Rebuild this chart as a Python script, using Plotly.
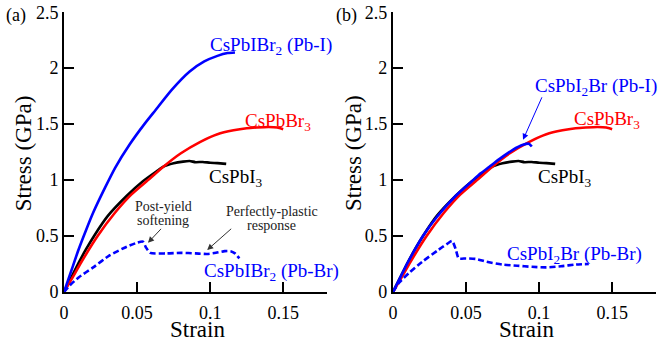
import plotly.graph_objects as go

# ---------------- data ----------------
# CsPbI3 (black), same in both panels
x_cspbi3 = [0, 0.005, 0.01, 0.015, 0.021, 0.03, 0.043, 0.054, 0.0635, 0.068, 0.075, 0.0815,
            0.086, 0.09, 0.095, 0.1, 0.105, 0.111]
y_cspbi3 = [0, 0.13, 0.26, 0.38, 0.51, 0.68, 0.86, 0.99, 1.08, 1.12, 1.15, 1.165,
            1.17, 1.16, 1.162, 1.155, 1.152, 1.145]

# CsPbBr3 (red), same in both panels
x_cspbbr3 = [0, 0.005, 0.012, 0.023, 0.035, 0.046, 0.0575, 0.068, 0.08, 0.093, 0.105, 0.116,
             0.125, 0.132, 0.14, 0.146, 0.15]
y_cspbbr3 = [0, 0.11, 0.27, 0.5, 0.71, 0.87, 1.0, 1.12, 1.24, 1.34, 1.41, 1.445,
             1.463, 1.47, 1.475, 1.47, 1.455]

# (a) CsPbIBr2 (Pb-I), blue solid
x_ibr2_pbi = [0, 0.005, 0.01, 0.015, 0.02, 0.028, 0.035, 0.045, 0.055, 0.0623, 0.074, 0.086,
              0.096, 0.105, 0.112, 0.117]
y_ibr2_pbi = [0, 0.19, 0.38, 0.55, 0.71, 0.93, 1.11, 1.32, 1.5, 1.62, 1.81, 1.97,
              2.06, 2.11, 2.135, 2.14]

# (a) CsPbIBr2 (Pb-Br), blue dashed
x_ibr2_pbbr = [0, 0.004, 0.01, 0.02, 0.0315, 0.043, 0.05, 0.054, 0.056, 0.059, 0.07, 0.08,
               0.09, 0.098, 0.104, 0.11, 0.114, 0.117, 0.12]
y_ibr2_pbbr = [0, 0.06, 0.13, 0.22, 0.33, 0.405, 0.44, 0.45, 0.40, 0.35, 0.345, 0.35,
               0.345, 0.34, 0.35, 0.365, 0.365, 0.345, 0.30]

# (b) CsPbI2Br (Pb-I), blue solid
x_i2br_pbi = [0, 0.005, 0.01, 0.0205, 0.03, 0.043, 0.054, 0.06, 0.066, 0.073, 0.082,
              0.089, 0.093, 0.095]
y_i2br_pbi = [0, 0.13, 0.26, 0.5, 0.67, 0.86, 0.99, 1.06, 1.12, 1.19, 1.27,
              1.315, 1.325, 1.30]

# (b) CsPbI2Br (Pb-Br), blue dashed
x_i2br_pbbr = [0, 0.004, 0.011, 0.02, 0.031, 0.037, 0.0405, 0.043, 0.045, 0.05, 0.057,
               0.064, 0.075, 0.085, 0.095, 0.105, 0.115, 0.125, 0.134]
y_i2br_pbbr = [0, 0.08, 0.17, 0.27, 0.375, 0.43, 0.455, 0.38, 0.30, 0.30, 0.295,
               0.27, 0.245, 0.235, 0.225, 0.22, 0.23, 0.245, 0.25]

x_ticks = [0, 0.05, 0.1, 0.15]
x_tick_text = ["0", "0.05", "0.1", "0.15"]
y_ticks = [0, 0.5, 1, 1.5, 2, 2.5]
y_tick_text = ["0", "0.5", "1", "1.5", "2", "2.5"]

BLUE = "#0000FF"
RED = "#FF0000"
BLACK = "#000000"
FONT = "Liberation Serif"

fig = go.Figure()

def line(x, y, color, xa, ya, dash=None):
    fig.add_trace(go.Scatter(x=x, y=y, mode="lines", xaxis=xa, yaxis=ya,
                             line=dict(color=color, width=2.6, dash=dash, shape="spline", smoothing=0.6),
                             showlegend=False, hoverinfo="skip"))

# panel (a)
line(x_cspbi3, y_cspbi3, BLACK, "x", "y")
line(x_cspbbr3, y_cspbbr3, RED, "x", "y")
line(x_ibr2_pbi, y_ibr2_pbi, BLUE, "x", "y")
line(x_ibr2_pbbr, y_ibr2_pbbr, BLUE, "x", "y", dash="6px,3px")
# panel (b)
line(x_cspbi3, y_cspbi3, BLACK, "x2", "y2")
line(x_cspbbr3, y_cspbbr3, RED, "x2", "y2")
line(x_i2br_pbi, y_i2br_pbi, BLUE, "x2", "y2")
line(x_i2br_pbbr, y_i2br_pbbr, BLUE, "x2", "y2", dash="6px,3px")

axis_common = dict(
    showline=True, linecolor="black", linewidth=2,
    ticks="inside", ticklen=10, tickwidth=1.5, tickcolor="black",
    showgrid=False, zeroline=False, ticklabeloverflow="allow",
    tickfont=dict(family=FONT, size=18, color="black"),
)

fig.update_layout(
    width=658, height=343,
    margin=dict(l=64, r=2, t=12, b=51),
    paper_bgcolor="white", plot_bgcolor="white",
    xaxis=dict(domain=[0, 0.4443], range=[0, 0.18], tickvals=x_ticks, ticktext=x_tick_text,
               anchor="y", ticklabelstandoff=3, **axis_common),
    yaxis=dict(domain=[0, 1], range=[0, 2.502], tickvals=y_ticks, ticktext=y_tick_text,
               anchor="x", **axis_common),
    xaxis2=dict(domain=[0.5557, 1], range=[0, 0.18], tickvals=x_ticks, ticktext=x_tick_text,
                anchor="y2", ticklabelstandoff=3, **axis_common),
    yaxis2=dict(domain=[0, 1], range=[0, 2.502], tickvals=y_ticks, ticktext=y_tick_text,
                anchor="x2", **axis_common),
)

ann = []

def label(text, x, y, xr, yr, color, size=19, xanchor="left"):
    ann.append(dict(text=text, x=x, y=y, xref=xr, yref=yr, showarrow=False,
                    xanchor=xanchor, yanchor="middle",
                    font=dict(family=FONT, size=size, color=color)))

def arrow(x, y, xr, yr, ax, ay, color):
    ann.append(dict(text=" ", x=x, y=y, xref=xr, yref=yr, ax=ax, ay=ay,
                    showarrow=True, arrowhead=2, arrowsize=1.2, arrowwidth=1,
                    arrowcolor=color, font=dict(family=FONT, size=2)))

GREY = "#222222"
# panel (a) labels
label("CsPbIBr<sub>2</sub> (Pb-I)", 0.0986, 2.2, "x", "y", BLUE)
label("CsPbBr<sub>3</sub>", 0.1226, 1.52, "x", "y", RED)
label("CsPbI<sub>3</sub>", 0.098, 1.02, "x", "y", BLACK)
label("CsPbIBr<sub>2</sub> (Pb-Br)", 0.0945, 0.18, "x", "y", BLUE)
label("Post-yield", 0.0678, 0.768, "x", "y", GREY, size=14, xanchor="center")
label("softening", 0.0678, 0.643, "x", "y", GREY, size=14, xanchor="center")
label("Perfectly-plastic", 0.1422, 0.717, "x", "y", GREY, size=14, xanchor="center")
label("response", 0.1422, 0.59, "x", "y", GREY, size=14, xanchor="center")
arrow(0.0575, 0.44, "x", "y", 15, -16, "#333333")
arrow(0.098, 0.375, "x", "y", 26, -23, "#333333")

# panel (b) labels
label("CsPbI<sub>2</sub>Br (Pb-I)", 0.0959, 1.83, "x2", "y2", BLUE)
label("CsPbBr<sub>3</sub>", 0.1226, 1.54, "x2", "y2", RED)
label("CsPbI<sub>3</sub>", 0.098, 1.02, "x2", "y2", BLACK)
label("CsPbI<sub>2</sub>Br (Pb-Br)", 0.0767, 0.33, "x2", "y2", BLUE)
arrow(0.089, 1.36, "x2", "y2", 20, -45, BLUE)

# axis titles & panel tags (paper coords)
for px in (0.2247, 0.782):
    ann.append(dict(text="Strain", x=px, y=-0.133, xref="paper", yref="paper",
                    showarrow=False, xanchor="center", yanchor="middle",
                    font=dict(family=FONT, size=23, color="black")))
for px in (-0.069, 0.488):
    ann.append(dict(text="Stress (GPa)", x=px, y=0.496, xref="paper", yref="paper",
                    showarrow=False, xanchor="center", yanchor="middle", textangle=-90,
                    font=dict(family=FONT, size=23, color="black")))
ann.append(dict(text="(a)", x=-0.081, y=0.989, xref="paper", yref="paper", showarrow=False,
                xanchor="center", yanchor="middle", font=dict(family=FONT, size=18, color="black")))
ann.append(dict(text="(b)", x=0.478, y=0.989, xref="paper", yref="paper", showarrow=False,
                xanchor="center", yanchor="middle", font=dict(family=FONT, size=18, color="black")))

fig.update_layout(annotations=ann)
fig.write_html("out.html", config={"displayModeBar": False},
               post_script="document.body.style.margin='0';")
